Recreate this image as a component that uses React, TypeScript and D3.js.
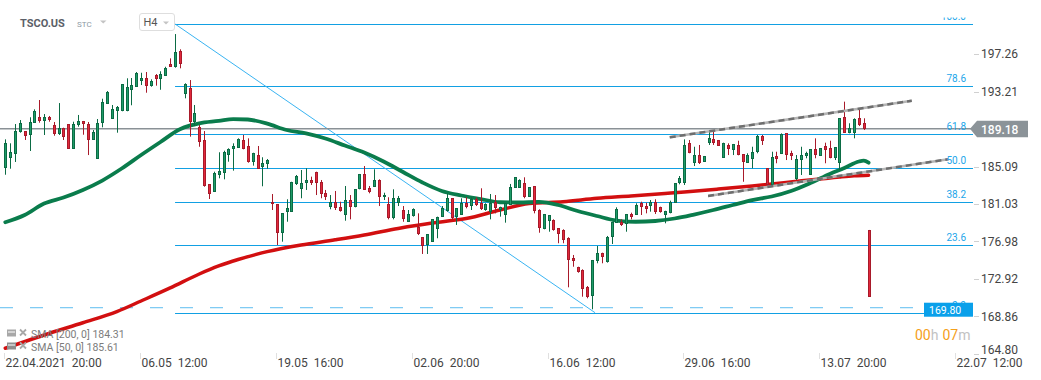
import React from 'react';
import * as d3 from 'd3';

const W = 1041;
const H = 380;

// ---- OHLC data (H4 candles) ----
const open = [
  184.96,186.04,186.48,188.86,188.93,188.53,189.83,190.42,190.05,190.45,
  189.58,188.64,189.23,189.69,187.02,189.58,190.02,189.69,187.99,185.93,
  189.83,191.89,190.26,191.07,191.07,191.07,193.37,193.73,194.38,194.64,
  193.84,195.00,194.60,194.92,196.19,195.89,197.63,192.91,193.62,189.94,
  189.33,187.96,183.16,182.36,184.17,184.42,186.37,186.98,187.13,187.96,
  187.31,185.61,186.33,185.07,185.33,181.25,181.03,177.86,180.20,180.20,
  183.20,182.62,183.34,183.63,184.46,183.44,182.19,180.74,181.28,180.67,
  179.84,181.46,180.67,182.62,184.28,182.73,182.90,183.63,181.76,181.03,
  179.48,181.11,180.38,179.11,179.76,178.57,177.43,176.59,176.95,178.29,
  179.66,180.30,181.65,179.66,179.84,181.11,180.81,181.54,181.11,180.38,
  180.20,181.28,180.38,179.84,180.92,182.80,182.80,183.27,181.82,182.98,
  180.38,178.29,179.22,179.30,178.40,178.22,177.32,175.15,174.24,173.89,
  172.08,171.07,174.89,175.69,174.78,177.49,179.01,179.11,178.87,179.95,
  179.84,181.11,180.81,180.81,181.28,180.67,179.84,180.02,181.17,183.27,
  183.34,187.67,185.50,186.33,185.61,187.60,188.03,187.96,186.04,187.42,
  186.88,187.42,186.41,185.50,185.87,186.69,188.39,184.90,183.09,186.23,
  186.44,188.68,186.58,183.70,185.79,186.23,184.17,186.95,186.26,187.31,
  187.06,185.98,185.44,190.48,188.75,188.75,190.31,189.77,178.22,
];
const high = [
  188.03,187.60,189.69,190.12,188.93,190.42,191.28,192.29,190.77,190.56,
  189.91,191.96,189.29,189.69,189.94,190.67,190.02,189.91,189.04,190.23,
  192.43,193.26,191.75,191.64,194.02,194.64,194.67,195.32,195.24,195.32,
  194.53,195.10,195.40,195.89,196.80,199.43,197.78,194.10,194.45,191.75,
  189.58,188.93,183.16,184.53,186.63,186.80,187.06,187.60,188.14,188.50,
  188.14,186.58,187.31,186.09,185.90,182.11,181.03,180.02,181.54,183.44,
  184.17,184.71,184.90,183.99,184.53,183.63,182.55,182.00,182.44,181.28,
  182.98,182.00,182.65,184.28,185.14,182.98,184.79,183.70,182.25,181.76,
  182.62,181.90,180.81,180.38,180.56,180.02,177.43,177.75,179.37,179.66,
  180.81,182.19,181.65,180.56,181.65,181.76,181.76,181.76,182.73,181.11,
  182.11,182.00,180.74,181.11,183.20,183.92,183.70,183.92,182.84,182.98,
  180.46,179.95,179.84,179.37,178.40,178.29,177.43,175.51,174.24,173.96,
  172.15,174.97,176.48,175.76,177.57,179.11,180.67,179.37,179.95,180.09,
  181.11,181.28,181.17,181.46,181.54,180.74,180.30,181.39,183.27,184.06,
  188.03,187.96,187.23,187.42,186.23,188.97,188.86,187.96,187.67,187.60,
  187.53,187.88,186.41,186.52,187.23,188.50,188.50,184.90,186.69,186.69,
  188.68,188.68,186.80,186.33,187.23,186.69,186.95,188.14,187.06,187.67,
  187.88,187.17,190.31,192.11,189.77,190.31,191.39,190.31,178.22,
];
const low = [
  184.20,184.85,185.58,188.75,187.96,186.77,189.83,189.83,188.50,189.94,
  188.42,188.50,187.96,187.02,187.02,189.40,188.53,186.33,187.96,185.93,
  189.33,191.89,190.26,188.75,191.07,191.07,191.72,193.73,193.91,193.08,
  193.73,193.84,193.40,194.92,195.89,195.79,195.72,192.47,188.32,189.47,
  187.23,182.90,181.57,182.36,183.81,183.70,185.61,184.64,187.13,186.95,
  185.50,185.18,184.85,182.95,184.85,180.38,176.59,176.95,179.11,180.20,
  183.09,181.65,182.55,183.09,182.00,181.65,181.46,180.46,180.38,180.20,
  179.22,179.37,180.67,182.62,182.55,182.19,182.90,180.81,181.46,179.37,
  179.37,180.81,179.11,179.11,179.66,177.67,175.62,175.62,176.95,177.32,
  179.66,180.20,179.37,178.76,179.84,180.56,180.38,180.81,180.38,180.30,
  179.37,180.02,179.66,179.01,180.92,182.80,182.80,181.65,181.82,180.02,
  177.92,178.29,178.03,178.14,176.78,176.78,172.01,174.24,173.59,170.99,
  170.82,169.63,174.61,174.61,174.68,176.70,179.01,178.65,178.03,179.37,
  179.84,179.84,180.02,180.20,179.95,180.09,178.94,180.02,181.17,183.16,
  183.09,186.52,185.14,185.36,185.61,187.42,187.42,187.34,186.04,186.33,
  186.33,186.30,183.44,185.50,184.90,186.52,187.42,182.90,182.90,185.44,
  186.44,185.79,185.79,183.63,184.17,185.98,184.17,185.98,186.26,185.44,
  185.98,185.79,184.71,188.75,188.68,188.14,189.47,189.04,170.97,
];
const close = [
  187.60,186.66,188.97,189.77,188.42,189.91,191.10,190.02,190.42,190.12,
  188.64,189.23,188.32,187.02,189.69,190.02,189.66,187.99,188.86,189.80,
  192.07,193.12,191.28,191.53,194.02,193.70,193.88,195.21,194.67,193.84,
  194.35,194.60,195.10,195.75,195.89,197.45,196.15,193.99,189.94,190.88,
  187.77,183.01,182.11,184.42,184.64,186.69,186.98,187.31,188.07,186.95,
  185.61,186.52,184.85,185.44,185.79,181.03,177.86,180.02,180.56,183.44,
  184.06,183.34,183.63,183.34,183.27,182.11,181.82,181.28,180.56,180.30,
  181.46,180.67,182.65,184.28,182.55,182.36,183.63,181.76,181.97,179.51,
  181.65,181.65,179.37,179.91,180.46,177.75,176.48,177.75,179.37,179.66,
  180.56,181.65,179.48,180.56,181.11,180.74,181.54,180.92,180.46,181.03,
  181.11,180.56,180.74,181.11,182.90,183.92,183.63,181.82,182.84,180.30,
  178.40,179.95,179.84,178.22,177.78,177.13,174.97,174.89,173.70,171.80,
  170.99,174.97,175.69,175.33,177.49,179.11,180.46,178.76,179.95,179.66,
  180.92,180.67,180.46,181.28,180.20,180.20,180.30,181.28,183.27,183.81,
  187.42,186.52,186.33,185.50,186.23,188.14,187.67,187.34,187.60,186.95,
  187.53,186.30,185.61,186.33,186.69,188.39,187.88,183.09,186.15,185.90,
  188.61,186.33,186.23,185.87,186.33,186.58,186.95,186.33,187.06,186.88,
  185.98,187.17,190.31,188.75,189.23,190.20,189.58,189.18,170.97,
];

// ---- moving averages (candle index, value) ----
const sma50Idx = [0,4,8,12,16,20,24,28,32,36,38,40,44,47,50,54,58,62,66,70,74,78,82,86,90,94,98,102,106,110,114,118,122,126,130,134,138,142,146,150,154,158,162,166,170,173,176,177,178];
const sma50Val = [179.05,179.84,181.08,181.73,182.55,183.57,184.87,186.33,187.74,189.12,189.51,189.77,190.02,190.23,190.18,189.74,189.04,188.68,188.12,187.36,186.60,185.63,184.49,183.36,182.44,181.95,181.57,181.22,181.19,181.25,180.92,180.27,179.73,179.24,179.11,179.19,179.46,179.89,180.38,180.92,181.46,181.84,182.44,183.30,184.28,184.93,185.63,185.72,185.50];
const sma200Idx = [0,9,16,23,28,34,40,44,48,54,61,68,74,81,88,92,95,102,108,115,122,129,136,140,147,154,161,168,172,175,178];
const sma200Val = [165.41,167.01,168.17,169.38,170.53,171.94,173.45,174.32,175.02,175.87,176.59,177.15,177.67,178.38,178.97,179.24,179.46,180.38,181.08,181.28,181.65,181.90,182.17,182.33,182.65,182.99,183.36,183.74,183.95,184.08,184.14];
const sma200Text = '184.31';
const sma50Text = '185.61';

// ---- axes ----
const priceTicks = [164.80,168.86,172.92,176.98,181.03,185.09,189.15,193.21,197.26];
const xTickIdx = [0,28,56,84,112,140,168,196];
const xTickDates = ['22.04.2021','06.05','19.05','02.06','16.06','29.06','13.07','22.07'];
const xTickTimes = ['20:00','12:00','16:00','20:00','12:00','16:00','20:00','12:00'];

// ---- drawings ----
const fibRatios = [1,0.786,0.618,0.5,0.382,0.236,0];
const fibLabels = ['100.0','78.6','61.8','50.0','38.2','23.6','0.0'];
const fibHighIdx = 35;
const fibHighPrice = 200.52;
const fibLowIdx = 121.6;
const fibLowPrice = 169.26;
const upperTrendIdx = [137,186.9];
const upperTrendPrice = [188.25,192.21];
const lowerTrendIdx = [144.9,194.4];
const lowerTrendPrice = [181.90,185.87];
const lastPrice = 189.18;
const alertPrice = 169.80;

const FONT = 'Roboto, "Noto Sans", sans-serif';

export default function App() {
  const plotRight = 973;
  const x = d3.scaleLinear().domain([0, 196]).range([5.3, 955.9]);
  const y = d3.scaleLinear().domain([164.80, 197.26]).range([353.9, 54.1]);

  const n = Math.min(open.length, high.length, low.length, close.length);
  const candles = d3.range(n).map((i) => ({ i, o: open[i], h: high[i], l: low[i], c: close[i] }));

  const line = d3.line<[number, number]>().x((d) => x(d[0])).y((d) => y(d[1])).curve(d3.curveMonotoneX);
  const sma50Path = line(sma50Idx.map((v, k) => [v, sma50Val[k]] as [number, number])) || '';
  const sma200Path = line(sma200Idx.map((v, k) => [v, sma200Val[k]] as [number, number])) || '';

  const fibX0 = x(fibHighIdx);
  const fibLevels = fibRatios.map((r, k) => ({ r, label: fibLabels[k], p: fibLowPrice + r * (fibHighPrice - fibLowPrice) }));

  const gFill = '#1e9b68', gStroke = '#0b6b44';
  const rFill = '#e2283b', rStroke = '#a81a2a';
  const fibColor = '#12a0e3';

  const yLast = y(lastPrice);
  const yAlert = y(alertPrice);

  return (
    <svg width={W} height={H} style={{ position: 'absolute', left: 0, top: 0, background: '#fff' }} fontFamily={FONT}>
      <defs>
        <clipPath id="plot"><rect x={0} y={16} width={plotRight} height={340} /></clipPath>
        <clipPath id="fibclip"><rect x={0} y={17.5} width={plotRight} height={340} /></clipPath>
      </defs>
      <rect x={0} y={0} width={W} height={H} fill="#fff" />

      {/* right axis ticks and labels */}
      {priceTicks.map((p) => {
        const yy = Math.round(y(p)) + 0.5;
        const ly = Math.min(y(p), 350);
        return (
          <g key={p}>
            <line x1={974} x2={979} y1={yy} y2={yy} stroke="#d0d0d0" />
            <text x={981} y={ly} dy="0.36em" fontSize={12} fill="#444">{p.toFixed(2)}</text>
          </g>
        );
      })}

      {/* bottom axis */}
      {xTickIdx.map((t, k) => {
        const xx = Math.round(x(t)) + 0.5;
        return (
          <g key={t}>
            <line x1={xx - 1} x2={xx - 1} y1={353} y2={359} stroke="#e0e0e0" />
            <text x={xx} y={362.5} dy="0.36em" fontSize={12} fill="#444">
              {xTickDates[k]}
              <tspan dx={6}>{xTickTimes[k]}</tspan>
            </text>
          </g>
        );
      })}

      <g clipPath="url(#plot)">
        {/* alert dashed line */}
        <line x1={0} x2={924} y1={yAlert} y2={yAlert} stroke="#5dbdf0" strokeWidth={1} strokeDasharray="13,17" />

        {/* fibonacci */}
        {fibLevels.map((f) => {
          const yy = Math.round(y(f.p)) + 0.5;
          return <line key={f.r} x1={fibX0} x2={plotRight} y1={yy} y2={yy} stroke={fibColor} strokeWidth={1} />;
        })}
        <line x1={fibX0} y1={y(fibHighPrice)} x2={x(fibLowIdx)} y2={y(fibLowPrice)} stroke="#3ab4f2" strokeWidth={1} />

        {/* current price line */}
        <line x1={0} x2={plotRight} y1={yLast} y2={yLast} stroke="#8a9196" strokeWidth={1.5} />

        {/* SMA lines */}
        <path d={sma200Path} fill="none" stroke="#d20f10" strokeWidth={3.5} strokeLinejoin="round" strokeLinecap="round" />
        <path d={sma50Path} fill="none" stroke="#0a7c4c" strokeWidth={3.8} strokeLinejoin="round" strokeLinecap="round" />

        {/* candles */}
        {candles.map((d) => {
          const cx = Math.round(x(d.i));
          const up = d.c >= d.o;
          const top = Math.round(y(Math.max(d.o, d.c)));
          const bot = Math.round(y(Math.min(d.o, d.c)));
          const hgt = Math.max(bot - top, 1);
          return (
            <g key={d.i}>
              <line x1={cx + 0.5} x2={cx + 0.5} y1={y(d.h)} y2={y(d.l)} stroke={up ? gStroke : rStroke} strokeWidth={1} />
              <rect x={cx - 0.5} y={top + 0.5} width={2} height={Math.max(hgt - 1, 0.01)} fill={up ? gFill : rFill} stroke={up ? gStroke : rStroke} strokeWidth={1} />
            </g>
          );
        })}

        {/* trend channel lines */}
        {[[upperTrendIdx, upperTrendPrice], [lowerTrendIdx, lowerTrendPrice]].map(([ix, pr], k) => (
          <g key={k}>
            <line x1={x(ix[0])} y1={y(pr[0])} x2={x(ix[1])} y2={y(pr[1])} stroke="#b5b5b5" strokeWidth={2.5} />
            <line x1={x(ix[0])} y1={y(pr[0])} x2={x(ix[1])} y2={y(pr[1])} stroke="#6e6e6e" strokeWidth={2.5} strokeDasharray="6,4" />
          </g>
        ))}
      </g>

      {/* fib labels */}
      <g clipPath="url(#fibclip)">
        {fibLevels.map((f) => (
          <text key={f.r} x={966} y={Math.round(y(f.p)) - 4} textAnchor="end" fontSize={10} fill="#22a6ea">{f.label}</text>
        ))}
      </g>

      {/* alert price box */}
      <rect x={924} y={yAlert - 5} width={49} height={14} fill="#0aa0ea" />
      <text x={929} y={yAlert + 2} dy="0.36em" fontSize={10.5} fill="#fff">{alertPrice.toFixed(2)}</text>

      {/* last price box */}
      <path d={`M970,${yLast} L977,${yLast - 8} L1028,${yLast - 8} L1028,${yLast + 8.5} L977,${yLast + 8.5} Z`} fill="#8b9398" />
      <text x={981} y={yLast + 0.5} dy="0.36em" fontSize={12} fontWeight={500} fill="#fff">{lastPrice.toFixed(2)}</text>

      {/* countdown */}
      <text x={915} y={340} fontSize={14}>
        <tspan fill="#f5a01a">00</tspan><tspan fill="#c2c2c2">h</tspan>
        <tspan fill="#f5a01a" dx={4}>07</tspan><tspan fill="#c2c2c2">m</tspan>
      </text>

      {/* header */}
      <text x={20} y={27} fontSize={11} fontWeight={700} fill="#5b6068">TSCO.US</text>
      <text x={77} y={27} fontSize={8} fill="#8d99a4">STC</text>
      <path d="M100,20.5 L106.5,20.5 L103.25,23.5 Z" fill="#c4c4c4" />
      <rect x={139.5} y={13.5} width={35} height={17} rx={2.5} fill="#fff" stroke="#dedede" />
      <text x={143.5} y={26} fontSize={11} fill="#555">H4</text>
      <path d="M163,21.5 L169,21.5 L166,24.5 Z" fill="#c4c4c4" />

      {/* legend */}
      {[[sma200Text, '200', 333.5, '#a8a8a8'], [sma50Text, '50', 346.5, '#8f8f8f']].map(([val, per, yy, ic]) => (
        <g key={per as string}>
          <rect x={7} y={(yy as number) - 4} width={9} height={7} fill={ic as string} />
          <line x1={8} x2={15} y1={(yy as number) - 1.5} y2={(yy as number) - 1.5} stroke="#fff" strokeWidth={1} />
          <path d={`M20,${(yy as number) - 4} L26,${(yy as number) + 2} M26,${(yy as number) - 4} L20,${(yy as number) + 2}`} stroke="#a8a8a8" strokeWidth={1.8} />
          <text x={31} y={(yy as number) + 0.5} dy="0.36em" fontSize={10.5} fill="#7c7c7c">{`SMA [${per}, 0] ${val}`}</text>
        </g>
      ))}
    </svg>
  );
}
